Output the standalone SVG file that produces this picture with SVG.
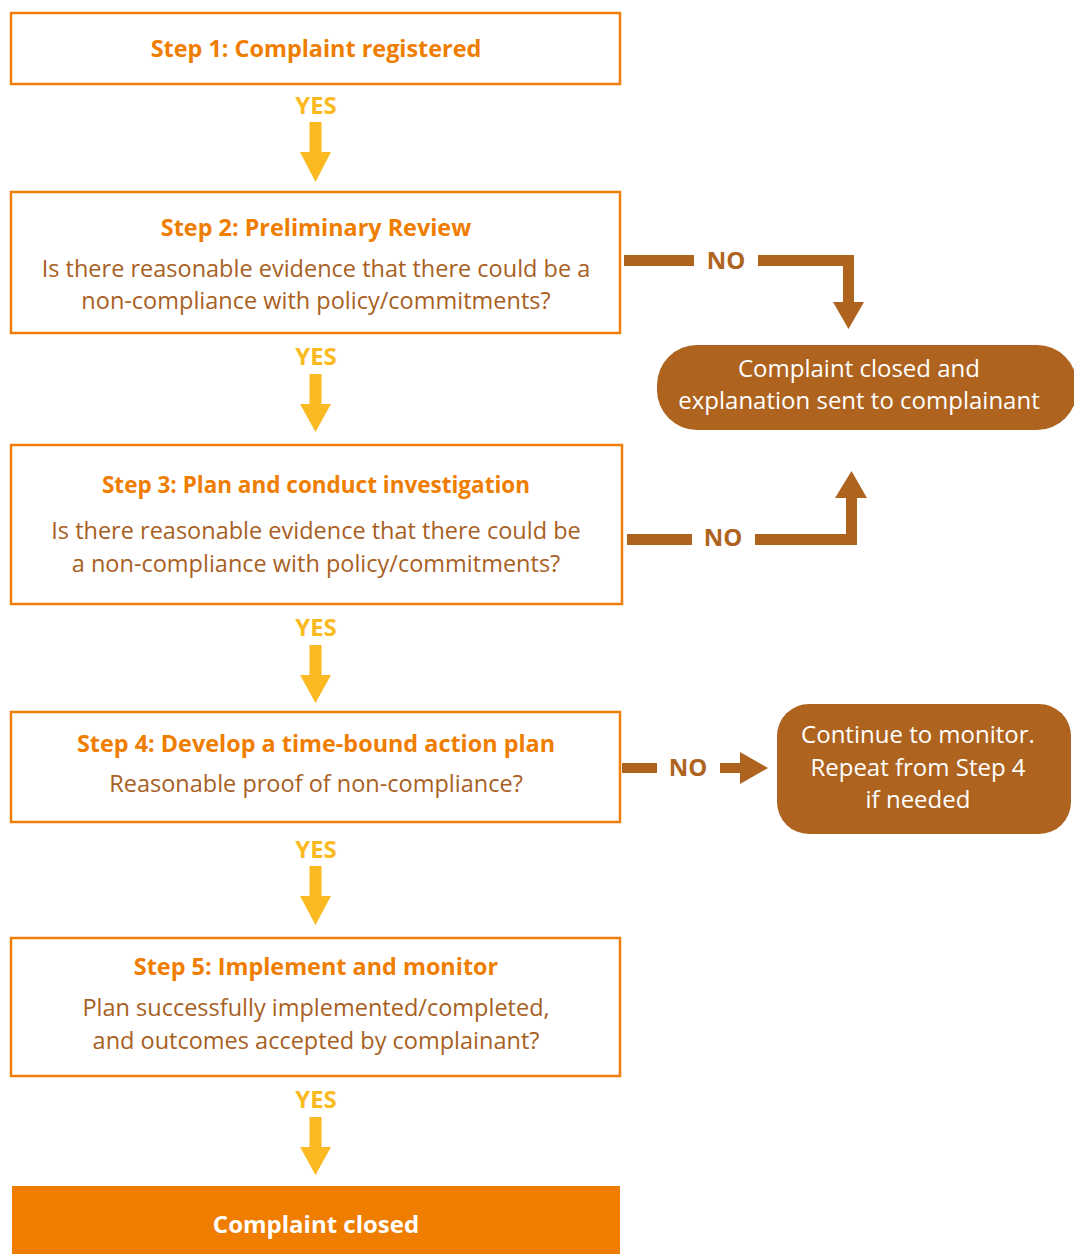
<svg xmlns="http://www.w3.org/2000/svg" width="1074" height="1254" viewBox="0 0 1074 1254">
<defs>
<style>
.box{fill:#fff;stroke:#EF7F0A;stroke-width:2.5}
.title{font-family:"Open Sans",Lato,sans-serif;font-weight:bold;font-size:23.4px;fill:#EF7D00;text-anchor:middle}
.body{font-family:"Open Sans",Lato,sans-serif;font-size:23.5px;fill:#A8601F;text-anchor:middle}
.white{font-family:"Open Sans",Lato,sans-serif;font-size:24px;fill:#fff;text-anchor:middle}
.yes{font-family:"Open Sans",Lato,sans-serif;font-weight:bold;font-size:24px;fill:#FBBA22;text-anchor:middle}
.no{font-family:"Open Sans",Lato,sans-serif;font-weight:bold;font-size:24px;fill:#AE641F;text-anchor:middle}
.ya{fill:#FBBA22}
.br{fill:#AE641F}
</style>
</defs>
<rect width="1074" height="1254" fill="#fff"/>

<g id="step1">
<rect class="box" x="11" y="13" width="609" height="71"/>
<text class="title" x="316" y="57">Step 1: Complaint registered</text>
</g>
<g id="step2">
<rect class="box" x="11" y="192" width="609" height="141"/>
<text class="title" x="316" y="236">Step 2: Preliminary Review</text>
<text class="body" x="316" y="277">Is there reasonable evidence that there could be a</text>
<text class="body" x="316" y="309">non-compliance with policy/commitments?</text>
</g>
<g id="step3">
<rect class="box" x="11" y="445" width="611" height="159"/>
<text class="title" x="316" y="493" style="font-size:22.5px">Step 3: Plan and conduct investigation</text>
<text class="body" x="316" y="539">Is there reasonable evidence that there could be</text>
<text class="body" x="316" y="572">a non-compliance with policy/commitments?</text>
</g>
<g id="step4">
<rect class="box" x="11" y="712" width="609" height="110"/>
<text class="title" x="316" y="752">Step 4: Develop a time-bound action plan</text>
<text class="body" x="316" y="792">Reasonable proof of non-compliance?</text>
</g>
<g id="step5">
<rect class="box" x="11" y="938" width="609" height="138"/>
<text class="title" x="316" y="975">Step 5: Implement and monitor</text>
<text class="body" x="316" y="1016">Plan successfully implemented/completed,</text>
<text class="body" x="316" y="1049">and outcomes accepted by complainant?</text>
</g>
<g id="closed">
<rect x="12" y="1186" width="608" height="68" fill="#EF7D00"/>
<text class="white" x="316" y="1233" font-weight="bold">Complaint closed</text>
</g>
<g id="closed-explained">
<rect x="657" y="345" width="420" height="85" rx="40" ry="40" class="br"/>
<text class="white" x="859" y="377">Complaint closed and</text>
<text class="white" x="859" y="409">explanation sent to complainant</text>
</g>
<g id="monitor">
<rect x="777" y="704" width="294" height="130" rx="32" ry="32" class="br"/>
<text class="white" x="918" y="743">Continue to monitor.</text>
<text class="white" x="918" y="776">Repeat from Step 4</text>
<text class="white" x="918" y="808">if needed</text>
</g>

<g id="connectors">
<text class="yes" x="316" y="114">YES</text>
<path class="ya" d="M309.5 122H321.5V152H331L315.5 182L300 152H309.5Z"/>
<text class="yes" x="316" y="365">YES</text>
<path class="ya" d="M309.5 374H321.5V404H331L315.5 432L300 404H309.5Z"/>
<text class="yes" x="316" y="636">YES</text>
<path class="ya" d="M309.5 645H321.5V675H331L315.5 703L300 675H309.5Z"/>
<text class="yes" x="316" y="858">YES</text>
<path class="ya" d="M309.5 866H321.5V896H331L315.5 925L300 896H309.5Z"/>
<text class="yes" x="316" y="1108">YES</text>
<path class="ya" d="M309.5 1117H321.5V1147H331L315.5 1175L300 1147H309.5Z"/>

<rect class="br" x="624" y="255" width="70" height="11"/>
<text class="no" x="726" y="269">NO</text>
<path class="br" d="M758 255H854V302H864L848.5 329L833 302H843V266H758Z"/>

<rect class="br" x="627" y="534" width="65" height="11"/>
<text class="no" x="723" y="546">NO</text>
<path class="br" d="M755 534H846V498H835L851.5 471L867 498H857V545H755Z"/>

<rect class="br" x="622" y="763" width="35" height="10"/>
<text class="no" x="688" y="776">NO</text>
<path class="br" d="M720 763H740V752L768 768L740 784V773H720Z"/>
</g>
</svg>
